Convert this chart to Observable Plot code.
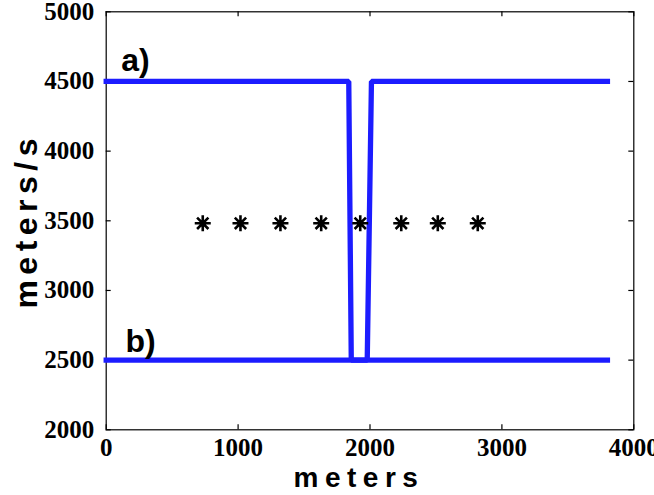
<!DOCTYPE html>
<html><head><meta charset="utf-8">
<script src="https://cdn.jsdelivr.net/npm/d3@7"></script>
<script src="https://cdn.jsdelivr.net/npm/@observablehq/plot@0.6"></script>
<style>
body{margin:0;background:#fff;}
svg [aria-label$="tick label"] text, svg [aria-label$="tick label"] {font-family:"Liberation Serif","Times New Roman",serif !important;font-weight:bold !important;font-size:25px !important;}
</style>
</head><body><div id="chart"></div>
<script>
const xTicks = [0, 1000, 2000, 3000, 4000];
const yTicks = [2000, 2500, 3000, 3500, 4000, 4500, 5000];
const lineAx = [0, 1839, 1858, 1979, 2011, 3800];
const lineAy = [4500, 4500, 2500, 2500, 4500, 4500];
const lineBx = [0, 3800];
const lineBy = [2500, 2500];
const starX = [732, 1018, 1321, 1630, 1926, 2237, 2514, 2817];
const starY = [3482, 3482, 3482, 3482, 3482, 3482, 3482, 3482];
const labelText = ["a)", "b)"];
const labelX = [114, 146];
const labelY = [4574, 2557];
const xLabel = "meters";
const yLabel = "meters/s";

const W = 654, H = 495;
const mL = 105.7, mR = 20.7, mT = 11.3, mB = 65.7;
const pw = W - mL - mR, ph = H - mT - mB;
const blue = "#1c1cff";

const lineA = lineAx.map((x, i) => ({x, y: lineAy[i]}));
const lineB = lineBx.map((x, i) => ({x, y: lineBy[i]}));
const stars = starX.map((x, i) => ({x, y: starY[i]}));
const labels = labelText.map((t, i) => ({t, x: labelX[i], y: labelY[i]}));

const asterisk8 = {
  draw(context, size) {
    const r = Math.sqrt(size / Math.PI), d = r * Math.SQRT1_2;
    context.moveTo(0, -r); context.lineTo(0, r);
    context.moveTo(-r, 0); context.lineTo(r, 0);
    context.moveTo(-d, -d); context.lineTo(d, d);
    context.moveTo(-d, d); context.lineTo(d, -d);
  }
};

const tickFont = {fontSize: 25, fontFamily: "Liberation Serif", fontWeight: "bold", fill: "black"};

const plot = Plot.plot({
  width: W, height: H,
  marginLeft: mL, marginRight: mR, marginTop: mT, marginBottom: mB,
  x: {domain: [0, 4000]},
  y: {domain: [2000, 5000]},
  marks: [
    Plot.axisX({ticks: xTicks, tickSize: 0, tickPadding: 8, label: null, tickFormat: d => String(d), ...tickFont}),
    Plot.axisY({ticks: yTicks, tickSize: 0, tickPadding: 12, label: null, tickFormat: d => String(d), ...tickFont}),
    Plot.tickX(xTicks, {x: d => d, insetTop: ph - 5, stroke: "black", strokeWidth: 1.2}),
    Plot.tickX(xTicks, {x: d => d, insetBottom: ph - 5, stroke: "black", strokeWidth: 1.2}),
    Plot.tickY(yTicks, {y: d => d, insetRight: pw - 5, stroke: "black", strokeWidth: 1.2}),
    Plot.tickY(yTicks, {y: d => d, insetLeft: pw - 5, stroke: "black", strokeWidth: 1.2}),
    Plot.frame({stroke: "black", strokeWidth: 1.2}),
    Plot.line(lineB, {x: "x", y: "y", stroke: blue, strokeWidth: 5.3, strokeLinecap: "square", strokeLinejoin: "miter"}),
    Plot.line(lineA, {x: "x", y: "y", stroke: blue, strokeWidth: 5.3, strokeLinecap: "square", strokeLinejoin: "miter"}),
    Plot.dot(stars, {x: "x", y: "y", symbol: asterisk8, r: 8, stroke: "black", strokeWidth: 2.6, fill: "none"}),
    Plot.text(labels, {x: "x", y: "y", text: "t", textAnchor: "start", lineAnchor: "bottom", fontSize: 32, fontWeight: "bold", fontFamily: "Liberation Sans", fill: "black"}),
    Plot.text([xLabel], {text: d => d, frameAnchor: "bottom", textAnchor: "middle", dx: -11, dy: 56.7, lineAnchor: "bottom", fontSize: 28, fontWeight: "bold", fontFamily: "Liberation Sans", fill: "black"}),
    Plot.text([yLabel], {text: d => d, frameAnchor: "left", textAnchor: "middle", rotate: -90, dx: -69, dy: 0, lineAnchor: "bottom", fontSize: 32, fontWeight: "bold", fontFamily: "Liberation Sans", fill: "black"})
  ]
});
document.getElementById("chart").appendChild(plot);
d3.select(plot).selectAll("text").filter(function () { return this.textContent === xLabel; }).attr("letter-spacing", 6.5);
d3.select(plot).selectAll("text").filter(function () { return this.textContent === yLabel; }).attr("letter-spacing", 5.5);
</script>
</body></html>
